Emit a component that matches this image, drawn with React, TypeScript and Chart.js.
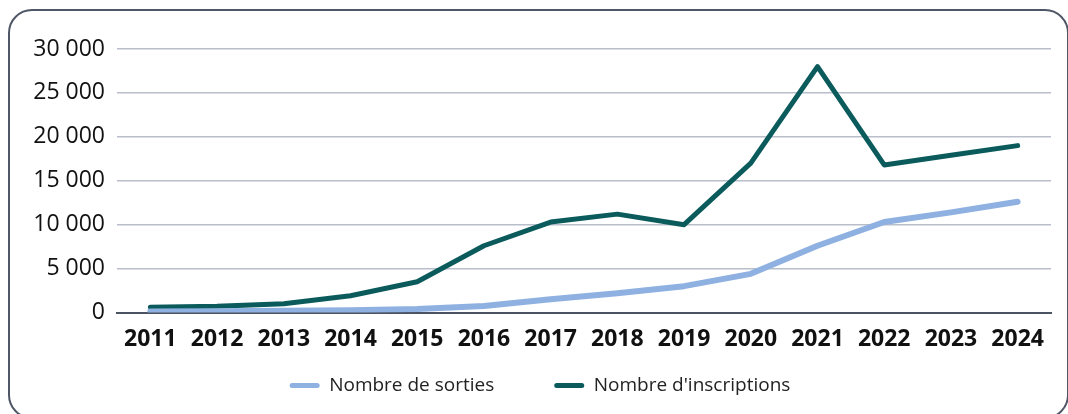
import React, { useEffect, useRef } from "react";
import { Chart, registerables } from "chart.js";

Chart.register(...registerables);

const years = ["2011", "2012", "2013", "2014", "2015", "2016", "2017", "2018", "2019", "2020", "2021", "2022", "2023", "2024"];
const sorties = [100, 150, 200, 250, 400, 750, 1500, 2200, 3000, 4400, 7600, 10300, 11400, 12600];
const inscriptions = [600, 700, 1000, 1900, 3500, 7600, 10300, 11200, 10000, 17000, 28000, 16800, 17900, 19000];
const seriesLabels = ["Nombre de sorties", "Nombre d'inscriptions"];
const yTicks = [0, 5000, 10000, 15000, 20000, 25000, 30000];

const FONT = "'Open Sans', 'Noto Sans', sans-serif";
const LIGHT = "#8fb1e1";
const DARK = "#0b5b5c";

const legendShift = {
  id: "legendShift",
  afterLayout(chart: any) {
    const l = chart.legend;
    if (l) {
      l.top -= 32;
      l.bottom -= 32;
    }
  },
};

export default function App() {
  const ref = useRef<HTMLCanvasElement | null>(null);
  useEffect(() => {
    if (!ref.current) return;
    const chart = new Chart(ref.current, {
      type: "line",
      data: {
        labels: years,
        datasets: [
          {
            label: seriesLabels[0],
            data: sorties,
            borderColor: LIGHT,
            backgroundColor: LIGHT,
            borderWidth: 6,
            pointRadius: 0,
            tension: 0,
            borderCapStyle: "round",
            borderJoinStyle: "round",
          },
          {
            label: seriesLabels[1],
            data: inscriptions,
            borderColor: DARK,
            backgroundColor: DARK,
            borderWidth: 5,
            pointRadius: 0,
            tension: 0,
            borderCapStyle: "round",
            borderJoinStyle: "round",
          },
        ],
      },
      plugins: [legendShift],
      options: {
        responsive: false,
        animation: false,
        layout: { padding: { left: 29, right: 17, top: 49, bottom: 0 } },
        plugins: {
          tooltip: { enabled: false },
          legend: {
            position: "bottom",
            labels: {
              color: "#222",
              font: { family: FONT, size: 19 },
              boxWidth: 30,
              boxHeight: 5,
              useBorderRadius: true,
              borderRadius: 2.5,
              padding: 60,
              generateLabels: (c: any) =>
                Chart.defaults.plugins.legend.labels.generateLabels(c).map((l: any) => ({ ...l, lineWidth: 0 })),
            },
          },
        },
        scales: {
          x: {
            offset: true,
            grid: { display: false, drawTicks: false },
            border: { display: true, color: "#4b5363", width: 2 },
            ticks: { color: "#111", font: { family: FONT, size: 23, weight: "bold" }, padding: 13, maxRotation: 0 },
            afterFit: (s: any) => {
              s.height = 35.5;
            },
          },
          y: {
            min: 0,
            max: 30000,
            afterBuildTicks: (s: any) => {
              s.ticks = yTicks.map((v) => ({ value: v }));
            },
            grid: {
              drawTicks: false,
              color: (ctx: any) => (ctx.tick && ctx.tick.value === 0 ? "#4b5363" : "#b9becb"),
              lineWidth: (ctx: any) => (ctx.tick && ctx.tick.value === 0 ? 2 : 1.5),
            },
            border: { display: false },
            ticks: {
              color: "#111",
              font: { family: FONT, size: 23 },
              padding: 12,
              callback: (v: any) => String(v).replace(/\B(?=(\d{3})+(?!\d))/g, " "),
            },
            afterFit: (s: any) => {
              s.width = 88;
            },
          },
        },
      },
    });
    return () => chart.destroy();
  }, []);

  return (
    <div style={{ position: "absolute", left: 0, top: 0, width: 1068, height: 414, overflow: "hidden", background: "#fff" }}>
      <div
        style={{
          position: "absolute",
          left: 8,
          top: 9,
          width: 1061,
          height: 410,
          boxSizing: "border-box",
          border: "2px solid #4f5766",
          borderRadius: 24,
        }}
      />
      <canvas ref={ref} width={1068} height={437} style={{ position: "absolute", left: 0, top: 0, width: 1068, height: 437 }} />
    </div>
  );
}
